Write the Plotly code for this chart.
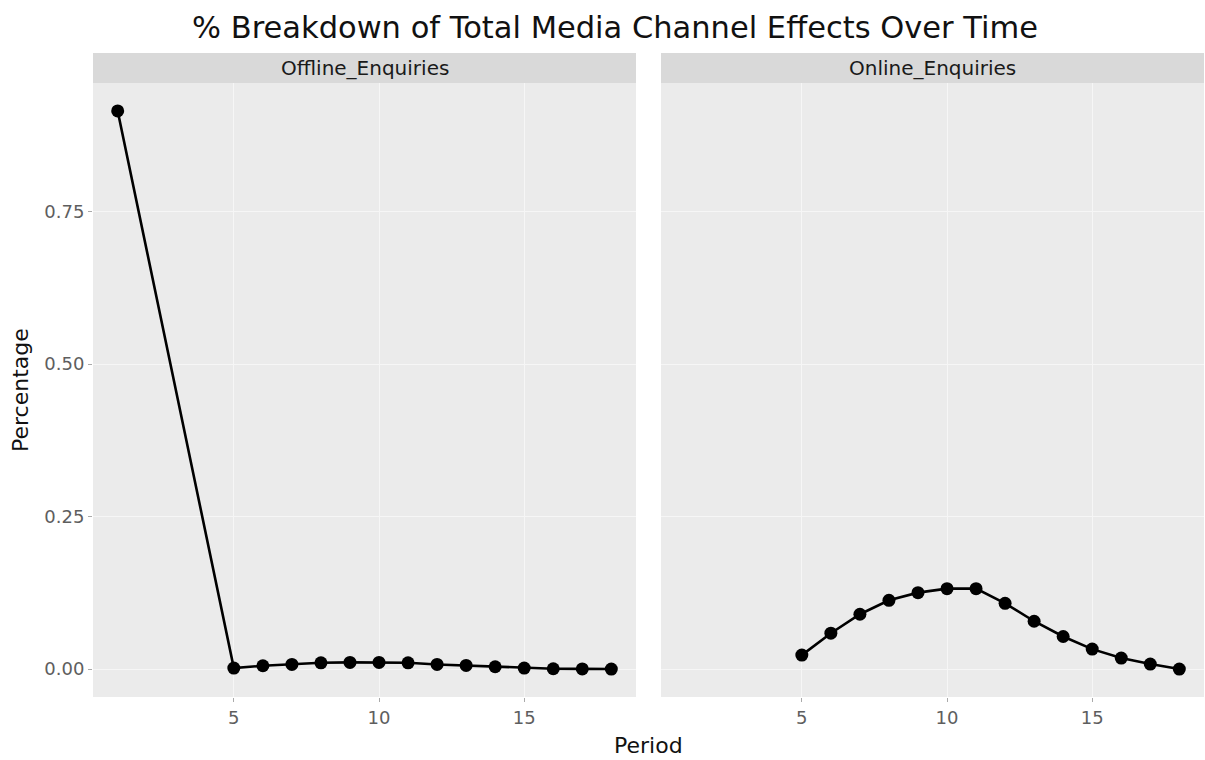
import plotly.graph_objects as go

# Share of total media channel effect by period, per enquiry type
offline_period = [1, 5, 6, 7, 8, 9, 10, 11, 12, 13, 14, 15, 16, 17, 18]
offline_pct = [0.915, 0.0016, 0.0054, 0.0076, 0.0103, 0.0109, 0.0109, 0.0103,
               0.0076, 0.0060, 0.0038, 0.0016, 0.0005, 0.0003, 0.0]

online_period = [5, 6, 7, 8, 9, 10, 11, 12, 13, 14, 15, 16, 17, 18]
online_pct = [0.0229, 0.0588, 0.0899, 0.1127, 0.1253, 0.1318, 0.1318, 0.1078,
              0.0784, 0.0534, 0.0327, 0.0180, 0.0082, 0.0]

panel_names = ["Offline_Enquiries", "Online_Enquiries"]
x_ticks = [5, 10, 15]
y_ticks = [0, 0.25, 0.5, 0.75]
y_tick_text = ["0.00", "0.25", "0.50", "0.75"]

FONT = "DejaVu Sans"
W, H = 1205, 760
M_L, M_R, M_T, M_B = 93, 1, 83, 63
plot_w = W - M_L - M_R
plot_h = H - M_T - M_B
gap = 25
left_dom = [0, (plot_w - gap) / 2 / plot_w]
right_dom = [1 - (plot_w - gap) / 2 / plot_w, 1]
strip_h = 30 / plot_h

line_style = dict(color="black", width=2.6)
marker_style = dict(color="black", size=13)

fig = go.Figure()
fig.add_trace(go.Scatter(x=offline_period, y=offline_pct, mode="lines+markers",
                         line=line_style, marker=marker_style,
                         xaxis="x", yaxis="y", showlegend=False))
fig.add_trace(go.Scatter(x=online_period, y=online_pct, mode="lines+markers",
                         line=line_style, marker=marker_style,
                         xaxis="x2", yaxis="y2", showlegend=False))

x_range = [0.15, 18.85]
y_range = [-0.0458, 0.9608]

axis_common = dict(
    showgrid=True, gridcolor="#f6f6f6", gridwidth=1.2,
    zeroline=False, showline=False,
    ticks="outside", ticklen=4, tickcolor="#aaaaaa", tickwidth=1,
    tickfont=dict(family=FONT, size=18, color="#5e5e5e"),
)

fig.update_layout(
    width=W, height=H,
    margin=dict(l=M_L, r=M_R, t=M_T, b=M_B),
    paper_bgcolor="white", plot_bgcolor="#ebebeb",
    font=dict(family=FONT, color="#1a1a1a"),
    title=dict(text="% Breakdown of Total Media Channel Effects Over Time",
               font=dict(family=FONT, size=30.5, color="#111111"),
               x=615 / W, xref="container", xanchor="center",
               y=1 - 27 / H, yref="container", yanchor="middle"),
    xaxis=dict(domain=left_dom, range=x_range, tickvals=x_ticks, anchor="y",
               **axis_common),
    xaxis2=dict(domain=right_dom, range=x_range, tickvals=x_ticks, anchor="y2",
                **axis_common),
    yaxis=dict(domain=[0, 1], range=y_range, tickvals=y_ticks,
               ticktext=y_tick_text, anchor="x", **axis_common),
    yaxis2=dict(domain=[0, 1], range=y_range, tickvals=y_ticks,
                showticklabels=False, anchor="x2",
                **{k: v for k, v in axis_common.items() if k not in ("ticks",)},
                ticks=""),
)

# Facet strips above each panel
for dom, name in zip([left_dom, right_dom], panel_names):
    fig.add_shape(type="rect", xref="paper", yref="paper",
                  x0=dom[0], x1=dom[1], y0=1, y1=1 + strip_h,
                  fillcolor="#d9d9d9", line=dict(width=0), layer="below")
    fig.add_annotation(text=name, xref="paper", yref="paper",
                       x=(dom[0] + dom[1]) / 2, y=1 + strip_h / 2,
                       xanchor="center", yanchor="middle", showarrow=False,
                       font=dict(family=FONT, size=20, color="#1a1a1a"))

# Shared axis titles
fig.add_annotation(text="Period", xref="paper", yref="paper",
                   x=0.5, y=-(745 - (H - M_B)) / plot_h,
                   xanchor="center", yanchor="middle", showarrow=False,
                   font=dict(family=FONT, size=22, color="#111111"))
fig.add_annotation(text="Percentage", xref="paper", yref="paper",
                   x=-(M_L - 20) / plot_w, y=0.5, textangle=-90,
                   xanchor="center", yanchor="middle", showarrow=False,
                   font=dict(family=FONT, size=22, color="#111111"))

fig.write_html("out.html")
